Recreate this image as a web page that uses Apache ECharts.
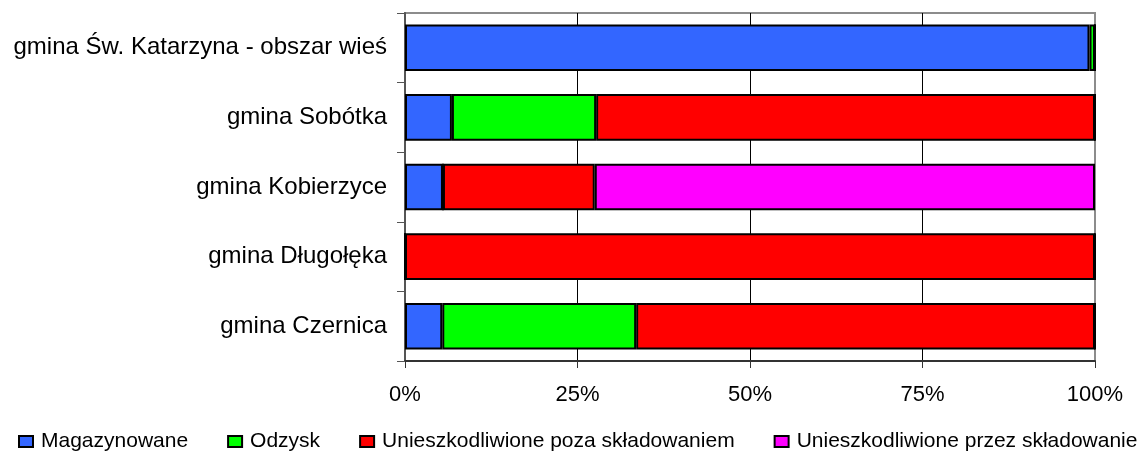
<!DOCTYPE html>
<html>
<head>
<meta charset="utf-8">
<script src="https://cdn.jsdelivr.net/npm/echarts@6/dist/echarts.min.js"></script>
<style>
  html, body { margin: 0; padding: 0; background: #fff; }
  #main { width: 1146px; height: 452px; }
</style>
</head>
<body>
<div id="main"></div>
<script>
// kategorie (od dołu do góry, jak na osi)
const categories = [
  "gmina Czernica",
  "gmina Długołęka",
  "gmina Kobierzyce",
  "gmina Sobótka",
  "gmina Św. Katarzyna - obszar wieś"
];

// udziały w %
const magazynowane = [5.4, 0, 5.5, 6.8, 99.2];
const odzysk = [28.1, 0, 0, 20.9, 0.8];
const pozaSkladowaniem = [66.5, 100, 22.0, 72.3, 0];
const przezSkladowanie = [0, 0, 72.5, 0, 0];

const xTicks = [0, 25, 50, 75, 100];

const seriesDefs = [
  { name: "Magazynowane", data: magazynowane, color: "#3366ff" },
  { name: "Odzysk", data: odzysk, color: "#00ff00" },
  { name: "Unieszkodliwione poza składowaniem", data: pozaSkladowaniem, color: "#ff0000" },
  { name: "Unieszkodliwione przez składowanie", data: przezSkladowanie, color: "#ff00ff" }
];

const font = "Liberation Sans, Arial, sans-serif";

const myChart = echarts.init(document.getElementById("main"));
myChart.setOption({
  animation: false,
  textStyle: { fontFamily: font },
  grid: {
    left: 405, right: 51, top: 13, bottom: 91,
    show: true, borderColor: "#8c8c8c", borderWidth: 2, backgroundColor: "transparent"
  },
  legend: {
    left: 18, top: 431, padding: 0,
    itemWidth: 14, itemHeight: 11, itemGap: 39,
    icon: "rect",
    textStyle: { fontSize: 21, color: "#000", padding: [0, 0, 0, 3] },
    itemStyle: { borderColor: "#000", borderWidth: 2 },
    data: seriesDefs.map(s => s.name)
  },
  xAxis: {
    type: "value", min: 0, max: 100, interval: 25,
    axisLine: { show: true, lineStyle: { color: "#333", width: 2 } },
    axisTick: { show: true, length: 7, lineStyle: { color: "#333", width: 1 } },
    axisLabel: {
      fontSize: 22, color: "#000", margin: 23,
      formatter: v => (xTicks.includes(v) ? v + "%" : "")
    },
    splitLine: { show: true, showMinLine: false, showMaxLine: false, lineStyle: { color: "#000", width: 1 } }
  },
  yAxis: {
    type: "category",
    data: categories,
    axisLine: { show: true, lineStyle: { color: "#555", width: 2 } },
    axisTick: { show: true, length: 8, lineStyle: { color: "#555", width: 1 } },
    axisLabel: { fontSize: 24, color: "#000", margin: 18 }
  },
  series: seriesDefs.map(s => ({
    name: s.name,
    type: "bar",
    stack: "total",
    barCategoryGap: "33%",
    data: s.data,
    itemStyle: { color: s.color, borderColor: "#000", borderWidth: 2 }
  }))
});
</script>
</body>
</html>
